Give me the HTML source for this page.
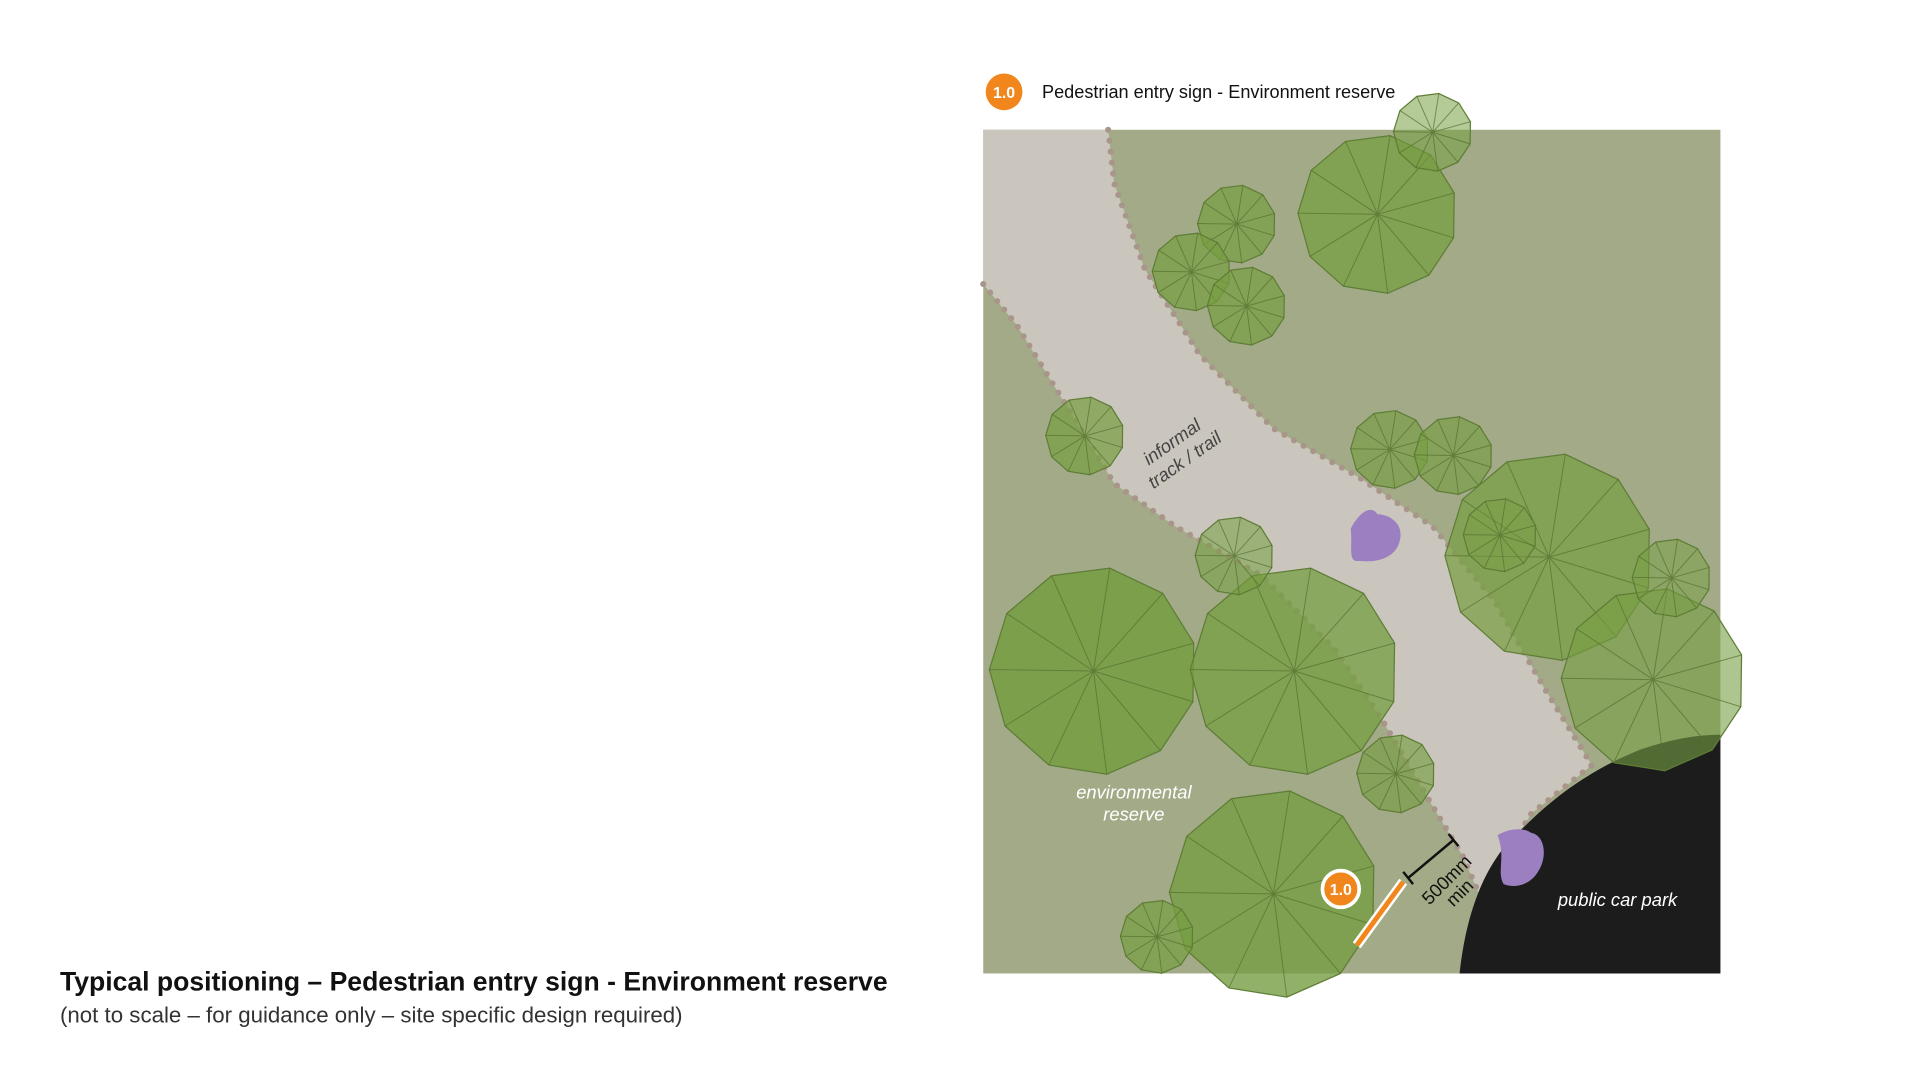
<!DOCTYPE html>
<html><head><meta charset="utf-8"><style>
html,body{margin:0;padding:0;background:#fff;width:1920px;height:1080px;overflow:hidden}
svg{display:block}
</style></head><body>
<svg id="s" width="1920" height="1080" viewBox="0 0 1568 882" xmlns="http://www.w3.org/2000/svg" font-family="Liberation Sans, Arial, sans-serif">
<rect x="803" y="106" width="602" height="689" fill="#a3aa87"/>
<path d="M803,232 L830,265 L870,330 L910,395 L960,430 L1030,470 L1090,530 L1130,590 L1165,650 L1195,700 L1210,735 L1250,665 L1300,625 L1260,560 L1220,490 L1170,430 L1110,390 L1040,350 L980,290 L935,220 L910,150 L905,106 L803,106 Z" fill="#cbc6bd"/>
<path d="M803,232 L830,265 L870,330 L910,395 L960,430 L1030,470 L1090,530 L1130,590 L1165,650 L1195,700 L1210,735" fill="none" stroke="#a8968a" stroke-width="5" stroke-linecap="round" stroke-dasharray="0 9"/>
<path d="M905,106 L910,150 L935,220 L980,290 L1040,350 L1110,390 L1170,430 L1220,490 L1260,560 L1300,625 L1250,665 L1210,735" fill="none" stroke="#a8968a" stroke-width="5" stroke-linecap="round" stroke-dasharray="0 9"/>
<path d="M1192,795 C1198,740 1215,700 1245,675 C1270,650 1300,628 1340,612 C1370,602 1390,600 1405,600 L1405,795 Z" fill="#1c1c1c"/>
<g id="trees"></g>
<path d="M1103,432 C1110,418 1120,412 1125,420 C1135,420 1147,428 1143,442 C1140,455 1125,460 1110,458 C1100,460 1105,445 1103,432Z" fill="#9b7fc0"/>
<path d="M1223,682 C1233,676 1245,676 1250,680 C1262,682 1264,700 1256,712 C1250,722 1238,726 1228,722 C1222,712 1230,700 1223,682Z" fill="#9b7fc0"/>
<text x="926" y="652" fill="#fff" font-size="15" font-style="italic" text-anchor="middle">environmental</text>
<text x="926" y="670" fill="#fff" font-size="15" font-style="italic" text-anchor="middle">reserve</text>
<text x="1321" y="740" fill="#fff" font-size="15" font-style="italic" text-anchor="middle">public car park</text>
<g transform="translate(960,365) rotate(-35)" fill="#444" font-size="15" font-style="italic" text-anchor="middle"><text x="0" y="0">informal</text><text x="0" y="18">track / trail</text></g>
<line x1="1108" y1="772" x2="1146" y2="720" stroke="#fff" stroke-width="8"/>
<line x1="1108" y1="772" x2="1146" y2="720" stroke="#f0861c" stroke-width="4"/>
<line x1="1150" y1="717" x2="1187" y2="686" stroke="#111" stroke-width="2"/>
<line x1="1146" y1="712" x2="1154" y2="722" stroke="#111" stroke-width="2"/>
<line x1="1183" y1="681" x2="1191" y2="691" stroke="#111" stroke-width="2"/>
<g transform="translate(1185,722) rotate(-45)" fill="#111" font-size="15" text-anchor="middle"><text x="0" y="0">500mm</text><text x="0" y="15">min</text></g>
<circle cx="1095" cy="726" r="15" fill="#f0861c" stroke="#fff" stroke-width="3"/>
<text x="1095" y="731" fill="#fff" font-size="13" font-weight="bold" text-anchor="middle">1.0</text>
<circle cx="820" cy="75" r="15" fill="#f0861c"/>
<text x="820" y="80" fill="#fff" font-size="13" font-weight="bold" text-anchor="middle">1.0</text>
<text x="851" y="80" fill="#111" font-size="14.8">Pedestrian entry sign - Environment reserve</text>
<text x="49" y="809" fill="#111" font-size="21.7" font-weight="bold">Typical positioning – Pedestrian entry sign - Environment reserve</text>
<text x="49" y="835" fill="#333" font-size="18.2">(not to scale – for guidance only – site specific design required)</text>
</svg>
<script>
var T=[[1125,175,65,.75],[893,548,85,.85],[1057,548,85,.75],[1265,455,85,.7],[1350,555,75,.6],[1040,730,85,.8],
[1170,108,32,.55],[1010,183,32,.7],[973,222,32,.7],[1018,250,32,.7],[886,356,32,.7],[1135,367,32,.65],[1187,372,32,.65],[1008,454,32,.55],[1140,632,32,.65],[1365,472,32,.5],[945,765,30,.7],[1225,437,30,.4]];
var g=document.getElementById('trees'),h='';
T.forEach(function(t){var cx=t[0],cy=t[1],r=t[2],o=t[3],n=11,p=[],sp='';
for(var i=0;i<n;i++){var a=i/n*2*Math.PI+0.3;var x=cx+r*Math.cos(a),y=cy+r*Math.sin(a);p.push(x.toFixed(1)+','+y.toFixed(1));sp+='M'+cx+','+cy+'L'+x.toFixed(1)+','+y.toFixed(1);}
h+='<polygon points="'+p.join(' ')+'" fill="rgba(118,158,66,'+o+')" stroke="#5e7d36" stroke-width="1"/>';
h+='<path d="'+sp+'" stroke="#55702f" stroke-width="0.8" opacity=".7"/>';});
g.innerHTML=h;
</script>
</body></html>
